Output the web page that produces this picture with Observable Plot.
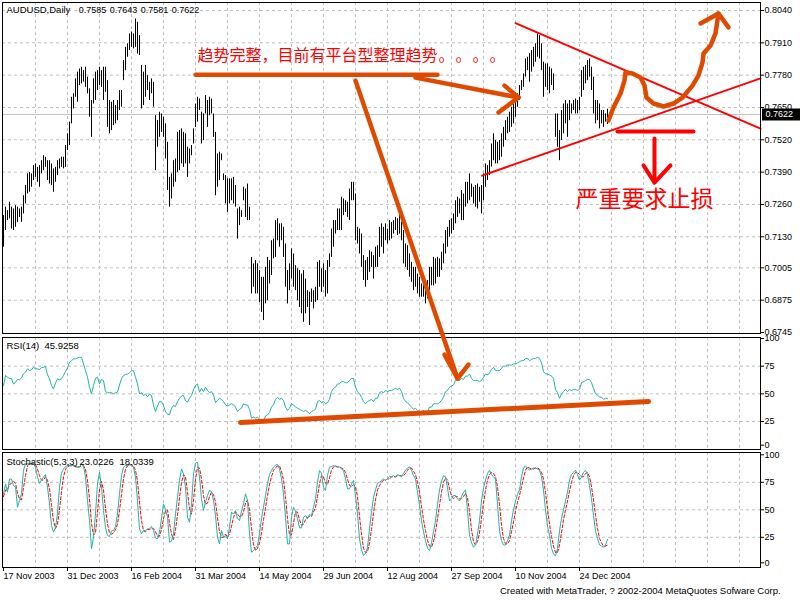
<!DOCTYPE html>
<html><head><meta charset="utf-8">
<script src="https://cdn.jsdelivr.net/npm/d3@7"></script>
<script src="https://cdn.jsdelivr.net/npm/@observablehq/plot@0.6"></script>
<style>
html,body{margin:0;padding:0;background:#ffffff;}
#wrap{position:relative;width:800px;height:600px;overflow:hidden;font-family:"Liberation Sans",Arial,sans-serif;}
#wrap svg{position:absolute;left:0;}
#cap{position:absolute;left:500px;top:586px;font-size:9.5px;line-height:10px;color:#000;white-space:pre;}
</style></head><body><div id="wrap"></div>
<script>
// ---------- data ----------
const dateLabels = ["17 Nov 2003","31 Dec 2003","16 Feb 2004","31 Mar 2004","14 May 2004","29 Jun 2004","12 Aug 2004","27 Sep 2004","10 Nov 2004","24 Dec 2004"];
const dateLabelBars = [0,32,64,96,128,160,192,224,256,288];
const gridBars = [16,32,48,64,80,96,112,128,144,160,176,192,208,224,240,256,272,288,304,320,336,352,368];
const priceTicks = [0.8040,0.7910,0.7780,0.7650,0.7520,0.7390,0.7260,0.7130,0.7005,0.6875,0.6745];
const oscTicks = [100,75,50,25];
const oscGrid = [75,50,25];
const ohlcLast = [0.7585,0.7643,0.7581,0.7622];
const rsiReadout = [45.9258];
const stochReadout = [23.0226,18.0339];
// daily high / low in pips (price x 10000)
const highPips = [7215,7249,7235,7269,7249,7242,7255,7249,7242,7249,
7295,7336,7383,7389,7383,7416,7423,7409,7416,7436,
7456,7450,7436,7436,7423,7403,7409,7436,7443,7450,
7450,7497,7544,7591,7691,7705,7765,7792,7805,7812,
7798,7812,7772,7725,7678,7765,7792,7798,7812,7798,
7812,7812,7758,7678,7671,7678,7658,7678,7718,7718,
7839,7892,7906,7946,7953,7946,8006,7993,7939,7819,
7792,7819,7778,7751,7765,7751,7617,7597,7631,7624,
7611,7584,7510,7369,7383,7436,7443,7550,7557,7564,
7550,7544,7490,7483,7497,7564,7664,7691,7684,7631,
7624,7698,7678,7691,7684,7624,7550,7463,7470,7463,
7383,7376,7363,7363,7363,7369,7336,7242,7249,7235,
7329,7322,7342,7249,7047,7021,7034,7021,6994,6967,
6967,7007,7047,7034,7114,7121,7195,7202,7182,7182,
7168,7101,6994,7021,7081,7061,7014,7001,6994,6980,
6994,6960,6913,6907,6920,6913,6927,7027,7034,7001,
7021,6994,7034,7061,7161,7195,7195,7242,7242,7289,
7282,7275,7269,7322,7349,7349,7302,7168,7161,7141,
7054,7034,7047,7074,7068,7054,7088,7094,7168,7182,
7168,7182,7161,7195,7188,7195,7208,7202,7222,7188,
7155,7101,7094,7061,7027,7007,7007,6980,6967,6940,
6967,6927,6954,7007,7007,7047,7041,7047,7041,7068,
7101,7155,7168,7195,7202,7222,7275,7289,7282,7316,
7302,7349,7349,7383,7342,7329,7336,7342,7329,7336,
7383,7423,7416,7436,7503,7544,7517,7510,7517,7544,
7570,7597,7611,7631,7651,7678,7691,7705,7738,7758,
7785,7845,7852,7866,7879,7892,7906,7946,7939,7906,
7832,7825,7825,7812,7805,7785,7624,7624,7557,7638,
7664,7678,7664,7678,7664,7678,7684,7678,7691,7798,
7812,7819,7839,7845,7812,7772,7678,7678,7664,7638,
7638,7624,7643];
const lowPips = [7088,7155,7195,7202,7161,7155,7168,7188,7208,7188,
7222,7262,7302,7309,7329,7356,7369,7349,7329,7383,
7396,7409,7356,7342,7336,7309,7349,7376,7403,7409,
7403,7409,7477,7497,7584,7644,7691,7671,7738,7745,
7752,7731,7705,7611,7530,7664,7678,7718,7738,7731,
7678,7711,7570,7544,7557,7577,7584,7597,7638,7651,
7758,7798,7852,7879,7892,7886,7892,7865,7859,7644,
7658,7691,7718,7678,7705,7651,7396,7490,7530,7550,
7530,7443,7316,7249,7282,7329,7349,7389,7396,7423,
7409,7423,7369,7423,7456,7503,7570,7591,7638,7503,
7517,7624,7570,7617,7624,7530,7295,7329,7356,7436,
7356,7262,7228,7262,7275,7262,7249,7121,7175,7208,
7275,7208,7195,7195,6900,6927,6900,6900,6866,6826,
6793,6860,6873,6940,6974,7041,7047,7114,7088,7114,
7047,6927,6860,6913,6960,6927,6913,6873,6846,6820,
6786,6820,6846,6773,6866,6840,6866,6873,6927,6907,
6927,6887,6900,7007,7047,7088,7141,7155,7155,7155,
7215,7228,7208,7195,7275,7275,7114,7101,7061,7007,
6954,6927,6954,6987,7007,6960,7007,7007,7047,7088,
7061,7114,7101,7114,7121,7141,7155,7135,7141,7114,
7021,7007,6994,6967,6947,6913,6927,6900,6887,6887,
6887,6860,6880,6913,6933,6933,6940,6967,6967,6994,
7021,7061,7088,7128,7141,7155,7182,7208,7222,7195,
7195,7249,7262,7275,7289,7262,7249,7242,7269,7222,
7275,7329,7356,7376,7410,7436,7423,7423,7436,7450,
7490,7517,7544,7550,7570,7584,7611,7651,7678,7718,
7731,7772,7798,7752,7792,7812,7832,7852,7845,7798,
7691,7731,7718,7705,7738,7718,7530,7490,7436,7517,
7544,7584,7530,7597,7624,7638,7624,7624,7638,7691,
7718,7745,7758,7772,7718,7624,7584,7597,7564,7584,
7570,7591,7581];
const rsi14 = [57.5,66.6,65,64,63.6,59,60.5,63,62.7,64.5,
68,69.6,72.6,71,71.7,74,72.6,72.6,72,73.8,
74,74.7,67.2,63.6,57.5,54.5,59.7,63.6,62.7,63.6,
66.6,70.2,73.5,78.6,80,81.6,81.6,82.5,83,83,
77,71,65,56,50,57.5,64,65,59,63,
62,52,51,51,51,50,51,51.5,58,63.6,
66.6,67.5,67.8,69,70.8,71,65,59,50,51,
48.5,49.7,47.3,49.7,48.5,39.5,34,39,43,43,
39.5,34,31.7,31,37,39.5,38.6,43,46.1,48,
48.5,43.7,42.5,46.1,48.5,54,57.5,59,51.5,55,
52,56,53,51,52,49,42,44,46,45,
43,40,39,40,41,40,38,34,36,37,
41,40,40,36,28,29,28,29,27,26,
25,30,31,33,38,40,45,47,45,46,
44,38,35,37,41,40,38,37,36,35,
34,35,34,32,34,35,36,43,44,42,
43,41,42,45,52,55,56,59,59,61,
61,60,60,62,64,64,56,52,50,47,
43,41,43,44,45,43,46,46,51,52,
51,53,52,53,53,54,55,54,55,52,
46,43,42,40,38,36,37,35,34,34,
35,33,34,38,38,41,41,41,42,44,
47,52,53,56,57,58,62,63,62,64,
63,66,66,68,64,62,62,62,61,62,
65,68,67,69,72,74,71,71,71,73,
75,75,76,76,76,77,77,78,79,80,
80,82,82,80,81,82,82,83,82,78,
70,68,68,67,66,64,54,51,46,50,
52,54,52,54,53,54,54,53,54,60,
61,62,63,63,60,55,50,49,47,47,
45,46,45.9258];
const stochK = [64.5,73.6,66,78,78,72,70.6,52.4,58.5,65,
85.7,91.8,91.8,92,92,92,88.8,79.7,74,77,
79.7,82,70.6,55.4,35.7,29.7,34.2,46.3,70.6,83.3,
87.2,89.3,90.3,90.3,90.3,90.3,88.8,88.8,88.8,91.8,
90.3,79.7,58.5,40.3,14.5,25.1,46.3,73.6,84.2,70.6,
49.4,33.6,26.6,25.7,30.6,31.2,34.8,46.3,64.5,81.2,
88.8,90.3,90.3,91,90.3,88.8,79.7,58.5,32.7,28.2,
31.2,31.2,32.7,32.7,34.8,31.2,24.5,23.6,29.7,41.8,
55.4,50.3,43.3,20.6,21.5,28.2,46.3,61.5,76.6,87.2,
82.7,70.6,43.3,38.7,55.4,82.7,92.4,93.3,79.7,60,
49.4,57,63,67.5,66.6,58.5,44.8,25.1,19,31.2,
25.1,26.6,23.6,34.2,47.8,46.3,49.4,41.8,40.3,48.8,
55.4,64.5,58.5,28.2,11.5,13,15.1,17.5,28.2,41.8,
52.4,63,73.6,82,85.7,88.8,90.6,91.2,87.2,78.1,
64.5,43.3,19,19,43.3,52.4,48.8,41.8,33.6,33.6,
43.3,44.8,41.8,45.7,44.8,52.4,60,75.1,85.7,83.3,
70.6,67.5,81.2,88.8,89.3,90.3,89.3,88.8,88.8,87.2,
85.7,78.1,69.1,69.1,73.6,76.6,63,46.3,23.6,13.6,
8.5,10.6,16,32.7,47.8,61.5,68.1,74.2,75.1,76.6,
78.1,76.6,78.5,80.3,79.7,81.2,79.7,82,81.2,80,
83,86,88,89,86,81,78,66,54,40,
30,22,15,13,20,30,40,55,68,76,
81,80,70,58,60,63,63,60,58,62,
66,68,50,27,20,16,18,28,40,58,
70,77,83,86,82,80,78,55,31,22,
18,18,22,27,40,50,58,64,68,80,
88,90,88,86,87,88,88,87,86,80,
68,50,35,27,15,10,8,15,31,42,
50,58,66,77,82,84,86,82,77,80,
84,86,82,72,60,45,31,24,18,17,
16,18,23.0226];
const stochD = [62,68,68,73,74,76,74,65,60,59,
70,81,90,92,92,92,91,87,81,77,
77,80,77,69,54,40,33,37,50,67,
80,87,89,90,90,90,90,89,89,90,
90,87,76,60,38,27,29,48,68,76,
68,51,37,29,28,29,32,37,49,64,
78,87,90,91,91,90,86,76,57,40,
31,30,32,32,33,33,30,26,26,32,
42,49,50,38,28,23,32,45,61,75,
82,80,66,51,46,59,77,89,88,78,
63,55,56,62,66,64,57,43,30,25,
25,28,25,28,35,43,48,46,44,44,
48,56,59,50,33,18,13,15,20,29,
41,52,63,73,80,86,88,90,90,85,
77,62,42,27,27,38,48,48,41,36,
37,41,43,44,44,48,52,62,74,81,
80,74,73,79,86,89,90,89,89,88,
87,84,78,72,71,73,71,62,44,28,
15,11,12,20,32,47,59,68,72,75,
77,77,78,78,80,80,80,81,81,81,
81,83,86,88,88,85,82,75,66,53,
41,31,22,17,16,21,30,42,54,66,
75,79,77,69,63,60,62,62,60,60,
62,65,61,48,32,21,18,21,29,42,
56,68,77,82,84,83,80,71,55,36,
24,19,19,22,30,39,49,57,63,71,
79,86,89,88,87,87,88,88,87,84,
78,66,51,37,26,17,11,11,18,29,
41,50,58,67,75,81,84,84,82,80,
80,83,84,80,71,59,45,33,24,20,
17,17,18.0339];
// annotations, as [bar index, price] (or [bar index, RSI value])
const triUpper = [[256,0.7989],[378.5,0.7565]];
const triLower = [[239.3,0.7376],[378.5,0.7767]];
const noteUnderline = [[96,0.7782],[217,0.7782]];
const arrowToPattern = [[206,0.7770],[257.5,0.7690]];
const arrowToPatternHead = [[250.5,0.7738],[257.5,0.7690],[247.5,0.7630]];
const arrowToRsi = [[176,0.7758],[227,0.6560]];
const arrowToRsiHead = [[220.5,0.6656],[227,0.6560],[232.5,0.6616]];
const squiggle = [[302.5,0.7598],[305,0.7650],[308.5,0.7706],[310.5,0.7759],[311,0.7791],[314.5,0.7787],[318.5,0.7771],[320.5,0.7738],[321.5,0.7690],[325,0.7666],[330,0.7654],[335,0.7666],[339.5,0.7690],[344.5,0.7738],[347.5,0.7779],[349.5,0.7831],[350,0.7867],[353.5,0.7899],[356,0.7948],[357.5,0.8028]];
const squiggleHead = [[348.5,0.7988],[357.5,0.8028],[362.5,0.7972]];
const stopLine = [[307,0.7553],[345,0.7553]];
const stopArrow = [[325.5,0.7525],[325.5,0.7348]];
const stopArrowHead = [[320,0.7417],[325.5,0.7348],[333.5,0.7417]];
const rsiSupport = [[118.5,24.1],[322.5,43.1]];
const noteMain = "趋势完整，目前有平台型整理趋势";
const noteDots = ["。","。","。","。"];
const noteStop = "严重要求止损";
const noteMainPos = [97,0.7859];
const noteDotBars = [217.5,226,234.5,243];
const noteStopPos = [286,0.7280];
const captionText = "Created with MetaTrader, ? 2002-2004 MetaQuotes Sofware Corp.";

// ---------- drawing ----------
const FONT = '"Liberation Sans", Arial, sans-serif';
const CJK = '"Noto Sans CJK SC", sans-serif';
const GRID = "#c0c0c0", DASH = "3,3", TEAL = "#20b2aa", ORANGE = "#e04a00", RED = "#ff0000";
const X = {domain: [-0.5, 378.5], axis: null};
const base = {width: 800, marginLeft: 2, marginRight: 40};
const st = {background: "transparent", overflow: "visible", fontFamily: FONT, fontSize: "9px", color: "#000"};
const px = d => d[0], py = d => d[1];
const bars = highPips.map((h, i) => ({i, high: h / 10000, low: lowPips[i] / 10000}));
const thick = (data, stroke, w) => Plot.line(data, {x: px, y: py, stroke, strokeWidth: w, strokeLinecap: "round", strokeLinejoin: "round"});
const label = (txt, dx, dy, size) => Plot.text([txt], {frameAnchor: "top-left", dx, dy, lineAnchor: "middle", textAnchor: "start", fontSize: size});

const mainPlot = Plot.plot({
  ...base, height: 335, marginTop: 2, marginBottom: 2,
  x: X, y: {domain: [0.67410, 0.80722], axis: null, label: null},
  style: st,
  marks: [
    Plot.ruleY(priceTicks.slice(0, -1), {stroke: GRID, strokeDasharray: DASH}),
    Plot.ruleX(gridBars, {stroke: GRID, strokeDasharray: DASH}),
    Plot.ruleY([ohlcLast[3]], {stroke: GRID}),
    Plot.ruleX(bars, {x: "i", y1: "low", y2: "high", stroke: "#000"}),
    Plot.line(triUpper, {x: px, y: py, stroke: RED, strokeWidth: 2}),
    Plot.line(triLower, {x: px, y: py, stroke: RED, strokeWidth: 2}),
    Plot.frame({stroke: "#000"}),
    Plot.axisY({anchor: "right", ticks: priceTicks, tickFormat: d => d.toFixed(4), tickSize: 3, tickPadding: 1, label: null}),
    Plot.ruleY([ohlcLast[3]], {x1: 379.5, x2: 398.5, stroke: "#000", strokeWidth: 12}),
    Plot.text([ohlcLast[3]], {x: 381, y: d => d, text: d => d.toFixed(4), fill: "#fff", textAnchor: "start"}),
    label("AUDUSD,Daily", 4, 7.5, 9.5),
    ...ohlcLast.map((v, k) => label(v.toFixed(4), 76.3 + k * 31, 7.5, 9)),
    thick(noteUnderline, ORANGE, 4.5),
    thick(arrowToPattern, ORANGE, 4.5),
    thick(arrowToPatternHead, ORANGE, 4.5),
    thick(arrowToRsi, ORANGE, 4.5),
    thick(arrowToRsiHead, ORANGE, 4.5),
    thick(squiggle, ORANGE, 4.5),
    thick(squiggleHead, ORANGE, 4.5),
    thick(stopLine, RED, 4),
    thick(stopArrow, RED, 4),
    thick(stopArrowHead, RED, 4),
    Plot.text([noteMain], {x: noteMainPos[0], y: noteMainPos[1], text: d => d, fill: RED, fontFamily: CJK, fontSize: 16, textAnchor: "start", lineAnchor: "middle"}),
    Plot.text(noteDots, {x: (d, k) => noteDotBars[k], y: noteMainPos[1], text: d => d, fill: RED, fontFamily: CJK, fontSize: 16, textAnchor: "start", lineAnchor: "middle"}),
    Plot.text([noteStop], {x: noteStopPos[0], y: noteStopPos[1], text: d => d, fill: RED, fontFamily: CJK, fontSize: 23, textAnchor: "start", lineAnchor: "middle"})
  ]
});

const rsiPlot = Plot.plot({
  ...base, height: 116, marginTop: 2, marginBottom: 2,
  x: X, y: {domain: [-0.3, 100.9], axis: null, label: null},
  style: st,
  marks: [
    Plot.ruleY(oscGrid, {stroke: GRID, strokeDasharray: DASH}),
    Plot.ruleX(gridBars, {stroke: GRID, strokeDasharray: DASH}),
    Plot.line(rsi14, {x: (d, i) => i, y: d => d, stroke: TEAL, strokeWidth: 1}),
    thick(rsiSupport, ORANGE, 5),
    Plot.frame({stroke: "#000"}),
    Plot.axisY({anchor: "right", ticks: oscTicks, tickSize: 3, tickPadding: 1, label: null}),
    Plot.axisY({anchor: "right", ticks: [0], tickSize: 3, tickPadding: 1, dy: -4, label: null}),
    label("RSI(14)", 4, 8.5, 9.5),
    label(rsiReadout[0].toFixed(4), 42, 8.5, 9.5)
  ]
});

const stochPlot = Plot.plot({
  ...base, height: 150, marginTop: 2, marginBottom: 33,
  x: X, y: {domain: [-2.45, 102.1], axis: null, label: null},
  style: st,
  marks: [
    Plot.ruleY(oscGrid, {stroke: GRID, strokeDasharray: DASH}),
    Plot.ruleX(gridBars, {stroke: GRID, strokeDasharray: DASH}),
    Plot.line(stochD, {x: (d, i) => i, y: d => d, stroke: RED, strokeWidth: 1, strokeDasharray: "3,2"}),
    Plot.line(stochK, {x: (d, i) => i, y: d => d, stroke: TEAL, strokeWidth: 1}),
    Plot.frame({stroke: "#000"}),
    Plot.axisY({anchor: "right", ticks: oscTicks, tickSize: 3, tickPadding: 1, label: null}),
    Plot.axisY({anchor: "right", ticks: [0], tickSize: 3, tickPadding: 1, dy: -2, label: null}),
    Plot.axisX({anchor: "bottom", ticks: dateLabelBars, tickFormat: d => dateLabels[dateLabelBars.indexOf(d)], tickSize: 4, tickPadding: 1, textAnchor: "start", label: null}),
    label("Stochastic(5,3,3)", 4, 9.5, 9.5),
    label(stochReadout[0].toFixed(4), 77, 9.5, 9.5),
    label(stochReadout[1].toFixed(4), 117, 9.5, 9.5)
  ]
});

const wrap = document.getElementById("wrap");
rsiPlot.style.top = "335px"; stochPlot.style.top = "450px"; mainPlot.style.top = "0px";
rsiPlot.style.zIndex = 1; stochPlot.style.zIndex = 1; mainPlot.style.zIndex = 2;
wrap.appendChild(rsiPlot); wrap.appendChild(stochPlot); wrap.appendChild(mainPlot);
const cap = document.createElement("div"); cap.id = "cap"; cap.textContent = captionText; wrap.appendChild(cap);
</script></body></html>
